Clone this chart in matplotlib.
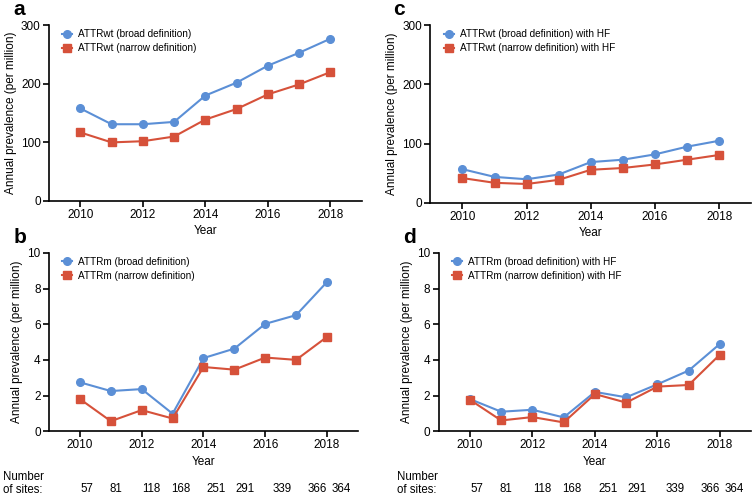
import matplotlib
matplotlib.use('Agg')
import matplotlib.pyplot as plt

plt.rcParams['font.family'] = ['Liberation Sans', 'DejaVu Sans']

years = [2010, 2011, 2012, 2013, 2014, 2015, 2016, 2017, 2018]

# panel a
wt_broad = [158, 131, 131, 135, 180, 202, 231, 253, 277]
wt_narrow = [117, 100, 102, 110, 139, 157, 182, 199, 220]
# panel b
m_broad = [2.74, 2.25, 2.36, 0.98, 4.1, 4.63, 6.02, 6.51, 8.37]
m_narrow = [1.8, 0.56, 1.18, 0.71, 3.6, 3.45, 4.13, 4.0, 5.29]
# panel c
wt_hf_broad = [57, 44, 40, 48, 69, 73, 82, 95, 105]
wt_hf_narrow = [42, 34, 32, 39, 56, 59, 65, 73, 81]
# panel d
m_hf_broad = [1.8, 1.09, 1.2, 0.77, 2.2, 1.9, 2.63, 3.4, 4.9]
m_hf_narrow = [1.76, 0.6, 0.79, 0.49, 2.08, 1.6, 2.5, 2.59, 4.3]

n_sites = [57, 81, 118, 168, 251, 291, 339, 366, 364]
site_shift = [0.23, 0.16, 0.32, 0.26, 0.42, 0.35, 0.55, 0.68, 0.45]

BLUE = '#5b8fd6'
RED = '#d6513a'

fig = plt.figure(figsize=(7.55, 4.95), dpi=100)

panels = [
    ('a', [0.065, 0.594, 0.414, 0.355], wt_broad, wt_narrow,
     ['ATTRwt (broad definition)', 'ATTRwt (narrow definition)'], 300, 100),
    ('c', [0.570, 0.590, 0.425, 0.359], wt_hf_broad, wt_hf_narrow,
     ['ATTRwt (broad definition) with HF', 'ATTRwt (narrow definition) with HF'], 300, 100),
    ('b', [0.065, 0.129, 0.409, 0.360], m_broad, m_narrow,
     ['ATTRm (broad definition)', 'ATTRm (narrow definition)'], 10, 2),
    ('d', [0.581, 0.129, 0.414, 0.360], m_hf_broad, m_hf_narrow,
     ['ATTRm (broad definition) with HF', 'ATTRm (narrow definition) with HF'], 10, 2),
]

for letter, pos, broad, narrow, labels, ymax, ystep in panels:
    ax = fig.add_axes(pos)
    ax.plot(years, broad, color=BLUE, marker='o', ms=5.5, lw=1.5, label=labels[0])
    ax.plot(years, narrow, color=RED, marker='s', ms=5.5, lw=1.5, label=labels[1])
    ax.set_xlim(2009, 2019)
    ax.set_ylim(0, ymax)
    ax.set_xticks([2010, 2012, 2014, 2016, 2018])
    ax.set_yticks(range(0, ymax + 1, ystep))
    for s in ['top', 'right']:
        ax.spines[s].set_visible(False)
    for s in ['left', 'bottom']:
        ax.spines[s].set_linewidth(1.2)
    ax.tick_params(labelsize=8.5, width=1.2, length=4, pad=2)
    ax.set_xlabel('Year', fontsize=8.5, labelpad=3)
    ax.set_ylabel('Annual prevalence (per million)', fontsize=8.5, labelpad=3)
    ax.legend(loc='upper left', frameon=False, fontsize=7.2, handlelength=1.0,
              handletextpad=0.6, borderaxespad=0.0, labelspacing=0.4,
              bbox_to_anchor=(0.03, 1.0))
    ax.text(-0.115, 1.035, letter, transform=ax.transAxes, fontsize=15,
            fontweight='bold', va='bottom', ha='left')
    if letter in ('b', 'd'):
        for yr, sh, n in zip(years, site_shift, n_sites):
            ax.annotate(str(n), xy=(yr + sh, 0), xycoords=('data', 'axes fraction'),
                        xytext=(0, -42), textcoords='offset points',
                        ha='center', va='center', fontsize=8.3)
        ax.annotate('Number\nof sites:', xy=(0, 0), xycoords='axes fraction',
                    xytext=(-33 if letter == 'b' else -30, -37.5),
                    textcoords='offset points', ha='left', va='center',
                    fontsize=8.3, linespacing=1.15)

fig.savefig('out.png', dpi=100)
